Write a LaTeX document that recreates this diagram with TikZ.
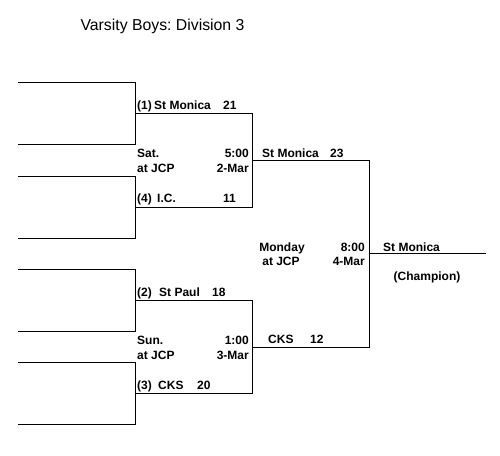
\documentclass[tikz,border=0pt]{standalone}
\usepackage{fontspec}
\setmainfont{Liberation Sans}
\frenchspacing
\begin{document}
\begin{tikzpicture}[x=1pt,y=-1pt,
  wire/.style={draw=black, line width=1pt},
  lbl/.style={font=\bfseries\fontsize{12}{14}\selectfont, inner sep=0pt},
  lw/.style={lbl, anchor=base west},
  le/.style={lbl, anchor=base east},
  lc/.style={lbl, anchor=base}]
\useasboundingbox (0,0) rectangle (500,455);
% title
\node[font=\fontsize{15.8}{18}\selectfont, anchor=base, inner sep=0pt] (title) at (162.5,30) {Varsity Boys: Division 3};
% first-round brackets
\coordinate (b1a) at (18,82);  \coordinate (b1b) at (135,82);
\coordinate (b1c) at (135,144); \coordinate (b1d) at (18,144);
\coordinate (b2a) at (18,176); \coordinate (b2b) at (135,176);
\coordinate (b2c) at (135,238); \coordinate (b2d) at (18,238);
\coordinate (b3a) at (18,269); \coordinate (b3b) at (135,269);
\coordinate (b3c) at (135,331); \coordinate (b3d) at (18,331);
\coordinate (b4a) at (18,362); \coordinate (b4b) at (135,362);
\coordinate (b4c) at (135,424); \coordinate (b4d) at (18,424);
\draw[wire] (b1a) -- (b1b) -- (b1c) -- (b1d);
\draw[wire] (b2a) -- (b2b) -- (b2c) -- (b2d);
\draw[wire] (b3a) -- (b3b) -- (b3c) -- (b3d);
\draw[wire] (b4a) -- (b4b) -- (b4c) -- (b4d);
% second round
\coordinate (m1) at (135,113); \coordinate (m1r) at (252,113);
\coordinate (m2) at (135,207); \coordinate (m2r) at (252,207);
\coordinate (m3) at (135,300); \coordinate (m3r) at (252,300);
\coordinate (m4) at (135,393); \coordinate (m4r) at (252,393);
\draw[wire] (m1) -- (m1r) -- (m2r) -- (m2);
\draw[wire] (m3) -- (m3r) -- (m4r) -- (m4);
% final
\coordinate (s1) at (252,160); \coordinate (s1r) at (369,160);
\coordinate (s2) at (252,347); \coordinate (s2r) at (369,347);
\draw[wire] (s1) -- (s1r) -- (s2r) -- (s2);
\coordinate (c1) at (369,253.5); \coordinate (c2) at (486,253.5);
\draw[wire] (c1) -- (c2);
% game 1
\node[lw] (t1s) at (137,109) {(1)};
\node[lw] (t1n) at (154,109) {St Monica};
\node[lw] (t1c) at (223,109) {21};
\node[lw] (g1a) at (137,157.5) {Sat.};
\node[lw] (g1b) at (137,172) {at JCP};
\node[le] (g1t) at (249,157.5) {5:00};
\node[le] (g1d) at (249,172) {2-Mar};
\node[lw] (t4s) at (137,202) {(4)};
\node[lw] (t4n) at (157,202) {I.C.};
\node[lw] (t4c) at (223,202) {11};
% game 2
\node[lw] (t2s) at (137,296) {(2)};
\node[lw] (t2n) at (159,296) {St Paul};
\node[lw] (t2c) at (212,296) {18};
\node[lw] (g2a) at (137,344.5) {Sun.};
\node[lw] (g2b) at (137,359) {at JCP};
\node[le] (g2t) at (249,344.5) {1:00};
\node[le] (g2d) at (249,359) {3-Mar};
\node[lw] (t3s) at (137,389) {(3)};
\node[lw] (t3n) at (158,389) {CKS};
\node[lw] (t3c) at (197,389) {20};
% final
\node[lw] (w1n) at (262,157) {St Monica};
\node[lw] (w1c) at (330,157) {23};
\node[lw] (w2n) at (268,343) {CKS};
\node[lw] (w2c) at (310,343) {12};
\node[lc] (f1) at (282,251) {Monday};
\node[lc] (f2) at (281,265.5) {at JCP};
\node[le] (ft) at (365,251) {8:00};
\node[le] (fd) at (365,265.5) {4-Mar};
\node[lw] (ch) at (383,251) {St Monica};
\node[lc] (champ) at (427,280.5) {(Champion)};
\end{tikzpicture}
\end{document}
